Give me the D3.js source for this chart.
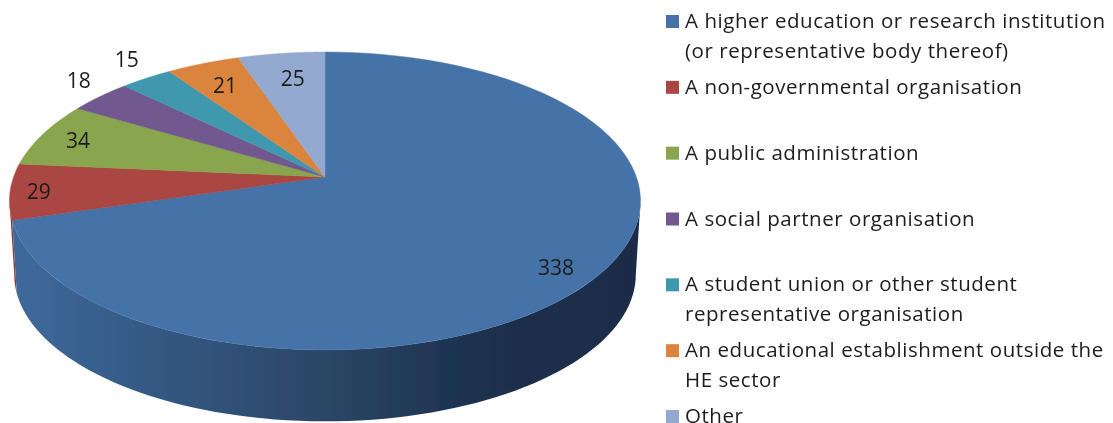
<!DOCTYPE html>
<html>
<head>
<meta charset="utf-8">
<script src="https://cdn.jsdelivr.net/npm/d3@7"></script>
<style>
  html, body { margin: 0; padding: 0; background: #fff; overflow: hidden; }
  text { font-family: "Open Sans", sans-serif; fill: #1c1c1c; }
</style>
</head>
<body>
<div id="chart"></div>
<script>
var categories = [
  ['A higher education or research institution', '(or representative body thereof)'],
  ['A non-governmental organisation'],
  ['A public administration'],
  ['A social partner organisation'],
  ['A student union or other student', 'representative organisation'],
  ['An educational establishment outside the', 'HE sector'],
  ['Other']
];
var values = [338, 29, 34, 18, 15, 21, 25];
var colors = ['#4572a7', '#aa4643', '#89a54e', '#71588f', '#4198af', '#db843d', '#93a9cf'];

// where each value label sits, as a share of the radius along its slice middle
var labelRadius = [0.85, 0.91, 0.87, 1.12, 1.15, 0.8, 0.78];
var labelNudge = [[0, 10], [0, 1], [0, 1], [3, -7], [4, -6], [0, 1], [3, 1]];

var width = 1113, height = 423;

var svg = d3.select('#chart').append('svg')
  .attr('width', width)
  .attr('height', height);

var defs = svg.append('defs');

defs.append('filter').attr('id', 'soft')
  .attr('x', '-2%').attr('y', '-2%').attr('width', '104%').attr('height', '104%')
  .append('feGaussianBlur').attr('stdDeviation', 0.5);

var sideGradient = defs.append('linearGradient')
  .attr('id', 'side')
  .attr('gradientUnits', 'userSpaceOnUse')
  .attr('x1', 12).attr('x2', 640).attr('y1', 0).attr('y2', 0);
[[0, '#3f6a9c'], [0.2, '#355a86'], [0.5, '#2b4666'], [0.75, '#1b304d'], [1, '#1a2c46']].forEach(function(s) {
  sideGradient.append('stop').attr('offset', s[0]).attr('stop-color', s[1]);
});

// perspective of the pie: flat disc coordinates to screen coordinates
var apexX = 325, apexY = 177;
var tilt = 0.161, scaleU = 311.4, scaleV = 145.1;
var lowerScale = 0.985, lowerDrop = 74;

function project(angle, r, lower) {
  var u = Math.sin(angle) * r;
  var v = -Math.cos(angle) * r;
  var w = 1 - tilt * v;
  var s = lower ? lowerScale : 1;
  return [apexX + s * scaleU * u / w, apexY + (lower ? lowerDrop : 0) + s * scaleV * v / w];
}

var line = d3.line();

function rim(a0, a1, lower) {
  return d3.range(0, 81).map(function(i) {
    return project(a0 + (a1 - a0) * i / 80, 1, lower);
  });
}

var pie = d3.pie().sort(null)(values);
var g = svg.append('g').attr('filter', 'url(#soft)');

// the walls: only the blue one and a sliver of the red one can be seen
var rightEdge = Math.acos(-tilt);
var leftEdge = 2 * Math.PI - Math.acos(-tilt);

g.append('path')
  .attr('d', line(rim(pie[1].startAngle, leftEdge, false).concat(rim(pie[1].startAngle, leftEdge, true).reverse())) + 'Z')
  .attr('fill', '#8f3b39');

g.append('path')
  .attr('d', line(rim(rightEdge, pie[0].endAngle, false).concat(rim(rightEdge, pie[0].endAngle, true).reverse())) + 'Z')
  .attr('fill', 'url(#side)');

// the top of the pie
g.selectAll('path.slice')
  .data(pie)
  .enter().append('path')
  .attr('class', 'slice')
  .attr('d', function(d) {
    return line([project(0, 0, false)].concat(rim(d.startAngle, d.endAngle, false))) + 'Z';
  })
  .attr('fill', function(d, i) { return colors[i]; })
  .attr('stroke', function(d, i) { return colors[i]; })
  .attr('stroke-width', 0.5);

g.selectAll('text.value')
  .data(pie)
  .enter().append('text')
  .attr('class', 'value')
  .attr('x', function(d, i) {
    return project((d.startAngle + d.endAngle) / 2, labelRadius[i], false)[0] + labelNudge[i][0];
  })
  .attr('y', function(d, i) {
    return project((d.startAngle + d.endAngle) / 2, labelRadius[i], false)[1] + labelNudge[i][1];
  })
  .attr('dy', '0.36em')
  .attr('text-anchor', 'middle')
  .attr('font-size', 21)
  .text(function(d) { return d.data; });

// legend
var legendY = d3.scalePoint()
  .domain(d3.range(categories.length))
  .range([15, 410]);

var legend = svg.append('g').attr('filter', 'url(#soft)');

var rows = legend.selectAll('g.row')
  .data(categories)
  .enter().append('g')
  .attr('class', 'row')
  .attr('transform', function(d, i) { return 'translate(666,' + legendY(i) + ')'; });

rows.append('rect')
  .attr('width', 13)
  .attr('height', 13)
  .attr('fill', function(d, i) { return colors[i]; });

rows.selectAll('text')
  .data(function(d) { return d; })
  .enter().append('text')
  .attr('x', 19)
  .attr('y', function(d, i) { return 13 + i * 30; })
  .attr('font-size', 20.5)
  .attr('letter-spacing', 0.55)
  .text(function(d) { return d; });
</script>
</body>
</html>
